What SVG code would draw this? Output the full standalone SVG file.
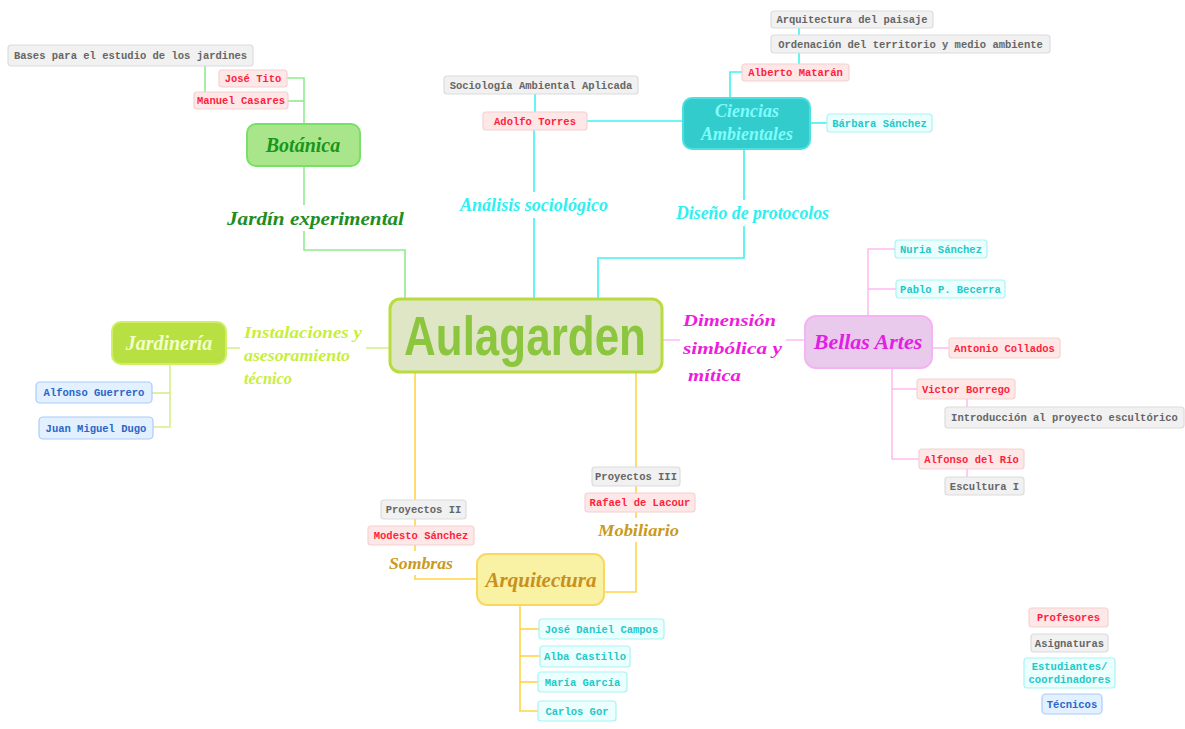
<svg xmlns="http://www.w3.org/2000/svg" width="1185" height="729" viewBox="0 0 1185 729">
  <style>
    .box { stroke-width: 1.2; }
    .lbl { font-family: "Liberation Mono", "DejaVu Sans Mono", monospace; font-weight: bold; font-size: 10.5px; text-anchor: middle; }
    .prof rect { fill: #fde7e7; stroke: #f4d2d2; }
    .prof text { fill: #ff1f3d; }
    .asig rect { fill: #f1f1f1; stroke: #dcdcdc; }
    .asig text { fill: #666666; }
    .stud rect { fill: #ebffff; stroke: #a8f4f4; }
    .stud text { fill: #22c8c8; }
    .tec rect { fill: #e2f0ff; stroke: #a8ccf8; }
    .tec text { fill: #2a66c8; }
    .script { font-family: "Liberation Serif", "DejaVu Serif", serif; font-style: italic; font-weight: bold; }
    .bg { fill: #ffffff; }
    .c-green { stroke: #8fea8f; }
    .c-cyan { stroke: #3ff2f2; }
    .c-pink { stroke: #ffbdf0; }
    .c-lime { stroke: #d2f08a; }
    .c-gold { stroke: #ffd44a; }
    #connectors path { fill: none; stroke-width: 1.6; }
  </style>

  <rect width="1185" height="729" fill="#ffffff"/>

  <!-- connectors -->
  <g id="connectors">
    <!-- Botánica branch -->
    <path class="c-green" d="M304 166 V250 H405 V299"/>
    <path class="c-green" d="M304 124 V78 H287"/>
    <path class="c-green" d="M304 101 H288"/>
    <path class="c-green" d="M205 66 V92"/>
    <!-- Ciencias Ambientales branch -->
    <path class="c-cyan" d="M534 299 V130"/>
    <path class="c-cyan" d="M535 112 V94"/>
    <path class="c-cyan" d="M587 121 H683"/>
    <path class="c-cyan" d="M744 149 V258 H598 V299"/>
    <path class="c-cyan" d="M730 98 V72 H742"/>
    <path class="c-cyan" d="M799 64 V28"/>
    <path class="c-cyan" d="M810 123 H827"/>
    <!-- Bellas Artes branch -->
    <path class="c-pink" d="M662 340 H805"/>
    <path class="c-pink" d="M868 316 V249 H895"/>
    <path class="c-pink" d="M868 289 H896"/>
    <path class="c-pink" d="M932 348 H949"/>
    <path class="c-pink" d="M892 368 V459 H919"/>
    <path class="c-pink" d="M892 389 H917"/>
    <path class="c-pink" d="M967 399 V407"/>
    <path class="c-pink" d="M967 469 V477"/>
    <!-- Jardinería branch -->
    <path class="c-lime" d="M226 348 H390"/>
    <path class="c-lime" d="M170 364 V427 H153"/>
    <path class="c-lime" d="M170 393 H152"/>
    <!-- Arquitectura branch -->
    <path class="c-gold" d="M415 372 V579 H477"/>
    <path class="c-gold" d="M636 372 V592 H604"/>
    <path class="c-gold" d="M520 605 V711 H538"/>
    <path class="c-gold" d="M520 629 H539"/>
    <path class="c-gold" d="M520 656 H540"/>
    <path class="c-gold" d="M520 682 H538"/>
  </g>

  <!-- branch labels -->
  <g id="label-jardin-experimental">
    <rect class="bg" x="225" y="205" width="182" height="26"/>
    <text class="script" x="227" y="225" font-size="19" fill="#1e8e1e" textLength="177" lengthAdjust="spacingAndGlyphs">Jardín experimental</text>
  </g>
  <g id="label-analisis">
    <rect class="bg" x="458" y="192" width="152" height="26"/>
    <text class="script" x="460" y="211" font-size="18" fill="#2ef0f0" textLength="148" lengthAdjust="spacingAndGlyphs">Análisis sociológico</text>
  </g>
  <g id="label-diseno">
    <rect class="bg" x="674" y="200" width="157" height="26"/>
    <text class="script" x="676" y="219" font-size="18" fill="#2ef0f0" textLength="153" lengthAdjust="spacingAndGlyphs">Diseño de protocolos</text>
  </g>
  <g id="label-dimension">
    <rect class="bg" x="680" y="306" width="106" height="80"/>
    <text class="script" x="683" y="326" font-size="17" fill="#ee1cdc" textLength="93" lengthAdjust="spacingAndGlyphs">Dimensión</text>
    <text class="script" x="683" y="354" font-size="17" fill="#ee1cdc" textLength="99" lengthAdjust="spacingAndGlyphs">simbólica y</text>
    <text class="script" x="688" y="381" font-size="17" fill="#ee1cdc" textLength="53" lengthAdjust="spacingAndGlyphs">mítica</text>
  </g>
  <g id="label-instalaciones">
    <rect class="bg" x="240" y="318" width="126" height="70"/>
    <text class="script" x="244" y="338" font-size="16.5" fill="#c8ee3c" textLength="118" lengthAdjust="spacingAndGlyphs">Instalaciones y</text>
    <text class="script" x="244" y="361" font-size="16.5" fill="#c8ee3c" textLength="106" lengthAdjust="spacingAndGlyphs">asesoramiento</text>
    <text class="script" x="244" y="384" font-size="16.5" fill="#c8ee3c" textLength="48" lengthAdjust="spacingAndGlyphs">técnico</text>
  </g>
  <g id="label-sombras">
    <rect class="bg" x="387" y="551" width="68" height="24"/>
    <text class="script" x="389" y="569" font-size="17" fill="#c99a22" textLength="64" lengthAdjust="spacingAndGlyphs">Sombras</text>
  </g>
  <g id="label-mobiliario">
    <rect class="bg" x="596" y="518" width="86" height="24"/>
    <text class="script" x="598" y="536" font-size="17" fill="#c99a22" textLength="81" lengthAdjust="spacingAndGlyphs">Mobiliario</text>
  </g>

  <!-- central node -->
  <g id="aulagarden">
    <rect x="390" y="299" width="272" height="73" rx="10" fill="#dfe6c5" stroke="#b9dc3c" stroke-width="3"/>
    <text x="404" y="355" font-family="'Liberation Sans Narrow', 'Liberation Sans', sans-serif" font-weight="bold" font-size="56" fill="#8cc63f" textLength="242" lengthAdjust="spacingAndGlyphs">Aulagarden</text>
  </g>

  <!-- main topics -->
  <g id="botanica">
    <rect x="247" y="124" width="113" height="42" rx="9" fill="#a9e68b" stroke="#78e066" stroke-width="2"/>
    <text class="script" x="303" y="152" font-size="20" fill="#1a961a" text-anchor="middle">Botánica</text>
  </g>
  <g id="ciencias-ambientales">
    <rect x="683" y="98" width="127" height="51" rx="9" fill="#33cccc" stroke="#4ee0e0" stroke-width="2"/>
    <text class="script" x="747" y="117" font-size="18" fill="#7ffcfc" text-anchor="middle">Ciencias</text>
    <text class="script" x="747" y="140" font-size="18" fill="#7ffcfc" text-anchor="middle">Ambientales</text>
  </g>
  <g id="bellas-artes">
    <rect x="805" y="316" width="127" height="52" rx="11" fill="#e9c9ec" stroke="#f4b4f4" stroke-width="2"/>
    <text class="script" x="868" y="349" font-size="22" fill="#e21ee2" text-anchor="middle">Bellas Artes</text>
  </g>
  <g id="jardineria">
    <rect x="112" y="322" width="114" height="42" rx="9" fill="#b9e042" stroke="#d0ee66" stroke-width="2"/>
    <text class="script" x="169" y="350" font-size="20" fill="#f2ffc8" text-anchor="middle">Jardinería</text>
  </g>
  <g id="arquitectura">
    <rect x="477" y="554" width="127" height="51" rx="10" fill="#f9f1a4" stroke="#f9d862" stroke-width="2"/>
    <text class="script" x="541" y="587" font-size="21" fill="#c8901c" text-anchor="middle">Arquitectura</text>
  </g>

  <!-- Botánica leaves -->
  <g id="bases-jardines" class="asig lbl"><rect class="box" x="8" y="45" width="245" height="21" rx="3"/><text x="130.5" y="59">Bases para el estudio de los jardines</text></g>
  <g id="jose-tito" class="prof lbl"><rect class="box" x="219" y="70" width="68" height="17" rx="3"/><text x="253" y="82">José Tito</text></g>
  <g id="manuel-casares" class="prof lbl"><rect class="box" x="194" y="92" width="94" height="17" rx="3"/><text x="241" y="104">Manuel Casares</text></g>

  <!-- Ciencias Ambientales leaves -->
  <g id="sociologia" class="asig lbl"><rect class="box" x="444" y="76" width="194" height="18" rx="3"/><text x="541" y="89">Sociología Ambiental Aplicada</text></g>
  <g id="adolfo-torres" class="prof lbl"><rect class="box" x="483" y="112" width="104" height="18" rx="3"/><text x="535" y="125">Adolfo Torres</text></g>
  <g id="arq-paisaje" class="asig lbl"><rect class="box" x="771" y="11" width="162" height="17" rx="3"/><text x="852" y="23">Arquitectura del paisaje</text></g>
  <g id="ordenacion" class="asig lbl"><rect class="box" x="771" y="35" width="279" height="18" rx="3"/><text x="910.5" y="48">Ordenación del territorio y medio ambiente</text></g>
  <g id="alberto-mataran" class="prof lbl"><rect class="box" x="742" y="64" width="107" height="17" rx="3"/><text x="795.5" y="76">Alberto Matarán</text></g>
  <g id="barbara-sanchez" class="stud lbl"><rect class="box" x="827" y="114" width="105" height="18" rx="3"/><text x="879.5" y="127">Bárbara Sánchez</text></g>

  <!-- Bellas Artes leaves -->
  <g id="nuria-sanchez" class="stud lbl"><rect class="box" x="895" y="240" width="92" height="18" rx="3"/><text x="941" y="253">Nuria Sánchez</text></g>
  <g id="pablo-becerra" class="stud lbl"><rect class="box" x="896" y="280" width="109" height="18" rx="3"/><text x="950.5" y="293">Pablo P. Becerra</text></g>
  <g id="antonio-collados" class="prof lbl"><rect class="box" x="949" y="338" width="111" height="20" rx="3"/><text x="1004.5" y="352">Antonio Collados</text></g>
  <g id="victor-borrego" class="prof lbl"><rect class="box" x="917" y="379" width="98" height="20" rx="3"/><text x="966" y="393">Victor Borrego</text></g>
  <g id="intro-escultorico" class="asig lbl"><rect class="box" x="945" y="407" width="239" height="21" rx="3"/><text x="1064.5" y="421">Introducción al proyecto escultórico</text></g>
  <g id="alfonso-rio" class="prof lbl"><rect class="box" x="919" y="449" width="105" height="20" rx="3"/><text x="971.5" y="463">Alfonso del Río</text></g>
  <g id="escultura-1" class="asig lbl"><rect class="box" x="945" y="477" width="79" height="18" rx="3"/><text x="984.5" y="490">Escultura I</text></g>

  <!-- Jardinería leaves -->
  <g id="alfonso-guerrero" class="tec lbl"><rect class="box" x="36" y="382" width="116" height="21" rx="4"/><text x="94" y="396">Alfonso Guerrero</text></g>
  <g id="juan-miguel-dugo" class="tec lbl"><rect class="box" x="39" y="417" width="114" height="22" rx="4"/><text x="96" y="432">Juan Miguel Dugo</text></g>

  <!-- Arquitectura leaves -->
  <g id="proyectos-2" class="asig lbl"><rect class="box" x="381" y="500" width="85" height="19" rx="3"/><text x="423.5" y="513">Proyectos II</text></g>
  <g id="modesto-sanchez" class="prof lbl"><rect class="box" x="368" y="526" width="106" height="19" rx="3"/><text x="421" y="539">Modesto Sánchez</text></g>
  <g id="proyectos-3" class="asig lbl"><rect class="box" x="592" y="467" width="88" height="19" rx="3"/><text x="636" y="480">Proyectos III</text></g>
  <g id="rafael-lacour" class="prof lbl"><rect class="box" x="585" y="493" width="110" height="19" rx="3"/><text x="640" y="506">Rafael de Lacour</text></g>
  <g id="jose-daniel-campos" class="stud lbl"><rect class="box" x="539" y="619" width="125" height="20" rx="3"/><text x="601.5" y="633">José Daniel Campos</text></g>
  <g id="alba-castillo" class="stud lbl"><rect class="box" x="540" y="646" width="90" height="21" rx="3"/><text x="585" y="660">Alba Castillo</text></g>
  <g id="maria-garcia" class="stud lbl"><rect class="box" x="538" y="672" width="89" height="20" rx="3"/><text x="582.5" y="686">María García</text></g>
  <g id="carlos-gor" class="stud lbl"><rect class="box" x="538" y="701" width="78" height="20" rx="3"/><text x="577" y="715">Carlos Gor</text></g>

  <!-- key -->
  <g id="key-profesores" class="prof lbl"><rect class="box" x="1029" y="608" width="79" height="19" rx="3"/><text x="1068.5" y="621">Profesores</text></g>
  <g id="key-asignaturas" class="asig lbl"><rect class="box" x="1031" y="634" width="77" height="18" rx="3"/><text x="1069.5" y="647">Asignaturas</text></g>
  <g id="key-estudiantes" class="stud lbl"><rect class="box" x="1024" y="658" width="91" height="30" rx="3"/><text x="1069.5" y="670">Estudiantes/</text><text x="1069.5" y="683">coordinadores</text></g>
  <g id="key-tecnicos" class="tec lbl"><rect class="box" x="1042" y="694" width="60" height="20" rx="4"/><text x="1072" y="708">Técnicos</text></g>
</svg>
